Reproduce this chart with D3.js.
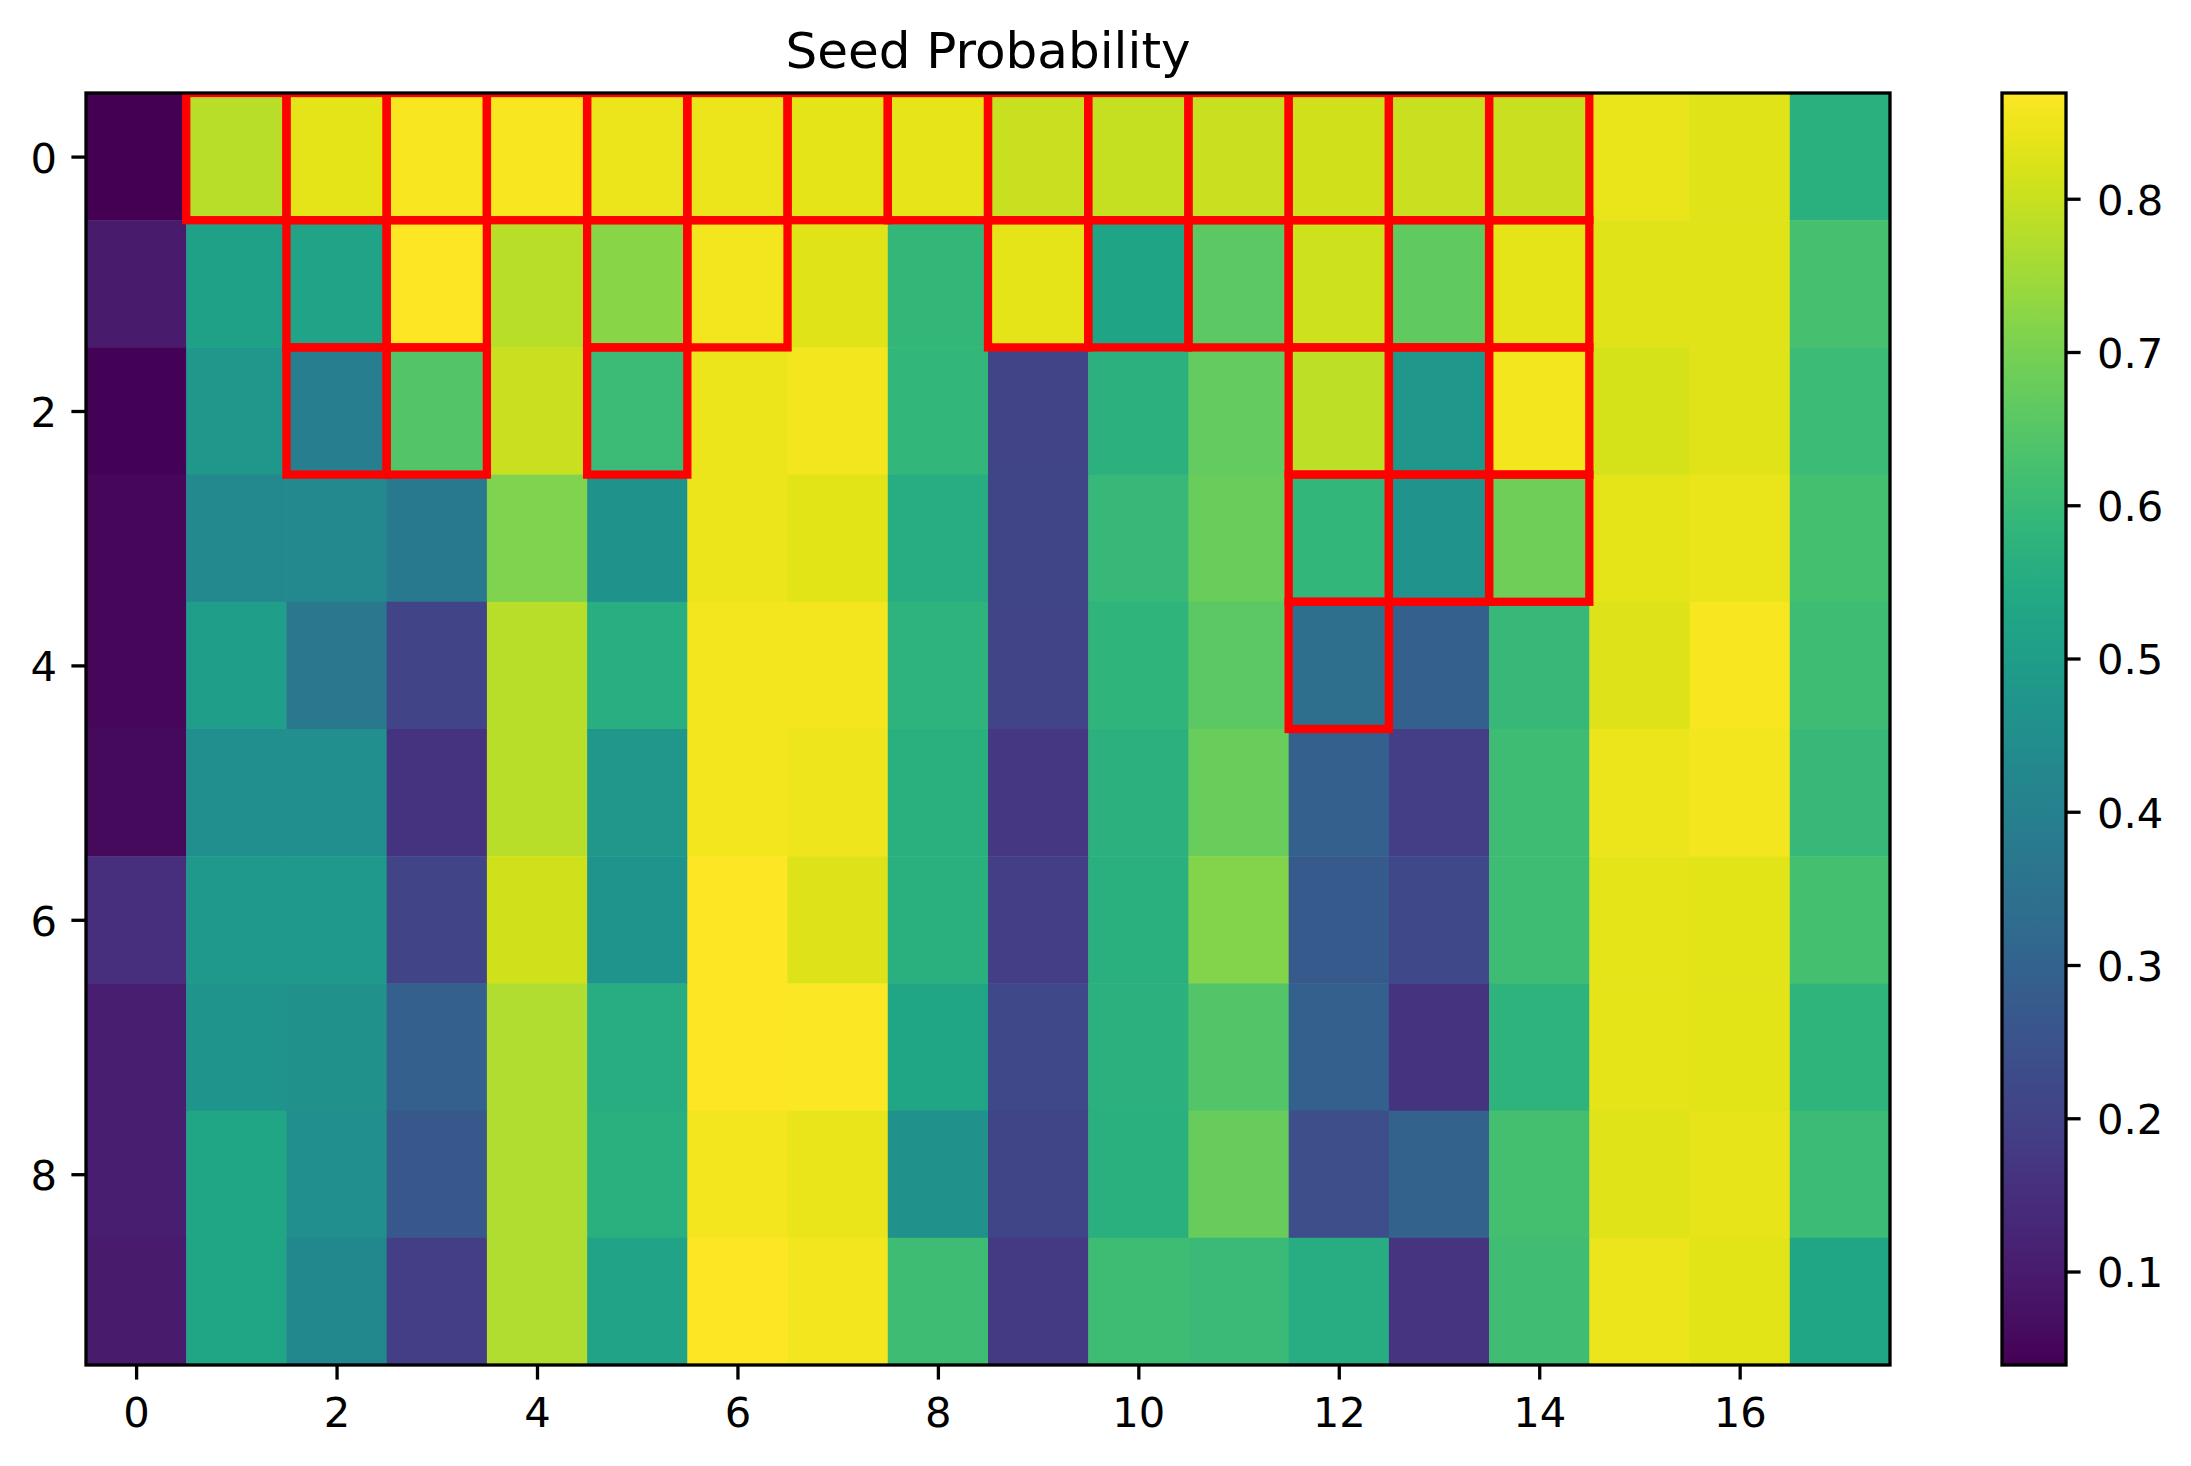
<!DOCTYPE html>
<html lang="en">
<head>
  <meta charset="UTF-8">
  <title>Seed Probability</title>
  <script src="https://d3js.org/d3.v7.min.js"></script>
  <style>
    body {
      margin: 0;
      background: white;
    }
    svg text {
      font-family: "DejaVu Sans", sans-serif;
      fill: black;
    }
  </style>
</head>
<body>
  <svg width="2191" height="1466"></svg>

  <script>
    // seed probability per cell, one array per row (18 columns)
    const row0 = [0.040, 0.780, 0.835, 0.860, 0.860, 0.845, 0.845, 0.835, 0.838, 0.800, 0.795, 0.800, 0.810, 0.800, 0.800, 0.840, 0.830, 0.565];
    const row1 = [0.100, 0.510, 0.520, 0.869, 0.780, 0.720, 0.855, 0.830, 0.590, 0.835, 0.525, 0.660, 0.805, 0.665, 0.835, 0.828, 0.828, 0.625];
    const row2 = [0.045, 0.480, 0.390, 0.645, 0.800, 0.605, 0.845, 0.855, 0.585, 0.205, 0.570, 0.670, 0.785, 0.480, 0.853, 0.815, 0.830, 0.605];
    const row3 = [0.055, 0.430, 0.430, 0.375, 0.710, 0.460, 0.845, 0.832, 0.555, 0.210, 0.595, 0.680, 0.585, 0.465, 0.685, 0.835, 0.840, 0.620];
    const row4 = [0.055, 0.500, 0.370, 0.205, 0.780, 0.560, 0.853, 0.853, 0.575, 0.205, 0.580, 0.660, 0.340, 0.290, 0.595, 0.825, 0.860, 0.610];
    const row5 = [0.060, 0.450, 0.450, 0.160, 0.780, 0.480, 0.853, 0.848, 0.565, 0.170, 0.570, 0.680, 0.290, 0.190, 0.610, 0.845, 0.855, 0.595];
    const row6 = [0.150, 0.485, 0.485, 0.205, 0.810, 0.470, 0.866, 0.825, 0.565, 0.190, 0.565, 0.715, 0.270, 0.220, 0.610, 0.835, 0.832, 0.620];
    const row7 = [0.110, 0.470, 0.455, 0.290, 0.770, 0.555, 0.866, 0.863, 0.530, 0.220, 0.570, 0.645, 0.290, 0.160, 0.575, 0.835, 0.832, 0.580];
    const row8 = [0.110, 0.530, 0.450, 0.265, 0.770, 0.565, 0.853, 0.840, 0.455, 0.210, 0.565, 0.675, 0.235, 0.300, 0.620, 0.828, 0.838, 0.605];
    const row9 = [0.100, 0.530, 0.425, 0.190, 0.770, 0.520, 0.866, 0.855, 0.610, 0.180, 0.610, 0.600, 0.555, 0.165, 0.615, 0.845, 0.832, 0.530];
    const grid = [row0, row1, row2, row3, row4, row5, row6, row7, row8, row9];

    // cells outlined in red, as [row, column]
    const seeds = [
      [0, 1], [0, 2], [0, 3], [0, 4], [0, 5], [0, 6], [0, 7], [0, 8], [0, 9], [0, 10], [0, 11], [0, 12], [0, 13], [0, 14],
      [1, 2], [1, 3], [1, 5], [1, 6], [1, 9], [1, 10], [1, 11], [1, 12], [1, 13], [1, 14],
      [2, 2], [2, 3], [2, 5], [2, 12], [2, 13], [2, 14],
      [3, 12], [3, 13], [3, 14],
      [4, 12]
    ];

    const xTicks = [0, 2, 4, 6, 8, 10, 12, 14, 16];
    const yTicks = [0, 2, 4, 6, 8];
    const cbarTicks = [0.1, 0.2, 0.3, 0.4, 0.5, 0.6, 0.7, 0.8];
    const valueRange = [0.039, 0.869];

    const svg = d3.select("svg");
    const plot = {left: 86, right: 1890, top: 93, bottom: 1365};
    const cbar = {left: 2002, right: 2066};
    const fontSize = 41.7;
    const tickLen = 14.6;
    const lineW = 3.3;

    const nCols = row0.length, nRows = grid.length;
    const x = d3.scaleLinear().domain([-0.5, nCols - 0.5]).range([plot.left, plot.right]);
    const y = d3.scaleLinear().domain([-0.5, nRows - 0.5]).range([plot.top, plot.bottom]);
    const color = d3.scaleSequential(d3.interpolateViridis).domain(valueRange);

    // title
    svg.append("text")
      .attr("x", (plot.left + plot.right) / 2)
      .attr("y", 68)
      .attr("text-anchor", "middle")
      .style("font-size", "50px")
      .text("Seed Probability");

    svg.append("clipPath").attr("id", "plot-clip")
      .append("rect")
      .attr("x", plot.left).attr("y", plot.top)
      .attr("width", plot.right - plot.left).attr("height", plot.bottom - plot.top);

    const cells = grid.flatMap((row, i) => row.map((v, j) => ({i, j, v})));

    svg.append("g")
      .selectAll("rect")
      .data(cells)
      .join("rect")
      .attr("x", d => x(d.j - 0.5))
      .attr("y", d => y(d.i - 0.5))
      .attr("width", d => x(d.j + 0.5) - x(d.j - 0.5) + 0.5)
      .attr("height", d => y(d.i + 0.5) - y(d.i - 0.5) + 0.5)
      .attr("fill", d => color(d.v));

    svg.append("g")
      .attr("clip-path", "url(#plot-clip)")
      .selectAll("rect")
      .data(seeds)
      .join("rect")
      .attr("x", d => x(d[1] - 0.5))
      .attr("y", d => y(d[0] - 0.5))
      .attr("width", d => x(d[1] + 0.5) - x(d[1] - 0.5))
      .attr("height", d => y(d[0] + 0.5) - y(d[0] - 0.5))
      .attr("fill", "none")
      .attr("stroke", "red")
      .attr("stroke-width", 8.3);

    // axes
    const xAxis = svg.append("g")
      .attr("transform", `translate(0,${plot.bottom})`)
      .call(d3.axisBottom(x).tickValues(xTicks).tickFormat(d3.format("d")).tickSize(tickLen).tickPadding(17.8));
    const yAxis = svg.append("g")
      .attr("transform", `translate(${plot.left},0)`)
      .call(d3.axisLeft(y).tickValues(yTicks).tickFormat(d3.format("d")).tickSize(tickLen).tickPadding(14.4));
    yAxis.selectAll("text").attr("dy", "0.37em");

    [xAxis, yAxis].forEach(a => {
      a.select(".domain").remove();
      a.selectAll(".tick line").attr("stroke", "black").attr("stroke-width", lineW);
      a.selectAll("text").style("font-size", fontSize + "px").attr("font-family", null);
    });

    svg.append("rect")
      .attr("x", plot.left).attr("y", plot.top)
      .attr("width", plot.right - plot.left).attr("height", plot.bottom - plot.top)
      .attr("fill", "none").attr("stroke", "black").attr("stroke-width", lineW);

    // colorbar
    const cy = d3.scaleLinear().domain(valueRange).range([plot.bottom, plot.top]);
    const grad = svg.append("defs").append("linearGradient")
      .attr("id", "viridis").attr("x1", 0).attr("y1", 1).attr("x2", 0).attr("y2", 0);
    grad.selectAll("stop")
      .data(d3.range(0, 1.0001, 0.02))
      .join("stop")
      .attr("offset", d => d)
      .attr("stop-color", d => d3.interpolateViridis(d));

    svg.append("rect")
      .attr("x", cbar.left).attr("y", plot.top)
      .attr("width", cbar.right - cbar.left).attr("height", plot.bottom - plot.top)
      .attr("fill", "url(#viridis)")
      .attr("stroke", "black").attr("stroke-width", lineW);

    const cAxis = svg.append("g")
      .attr("transform", `translate(${cbar.right},0)`)
      .call(d3.axisRight(cy).tickValues(cbarTicks).tickFormat(d3.format(".1f")).tickSize(tickLen).tickPadding(16.4));
    cAxis.select(".domain").remove();
    cAxis.selectAll(".tick line").attr("stroke", "black").attr("stroke-width", lineW);
    cAxis.selectAll("text").attr("dy", "0.37em").style("font-size", fontSize + "px").attr("font-family", null);
  </script>
</body>
</html>
